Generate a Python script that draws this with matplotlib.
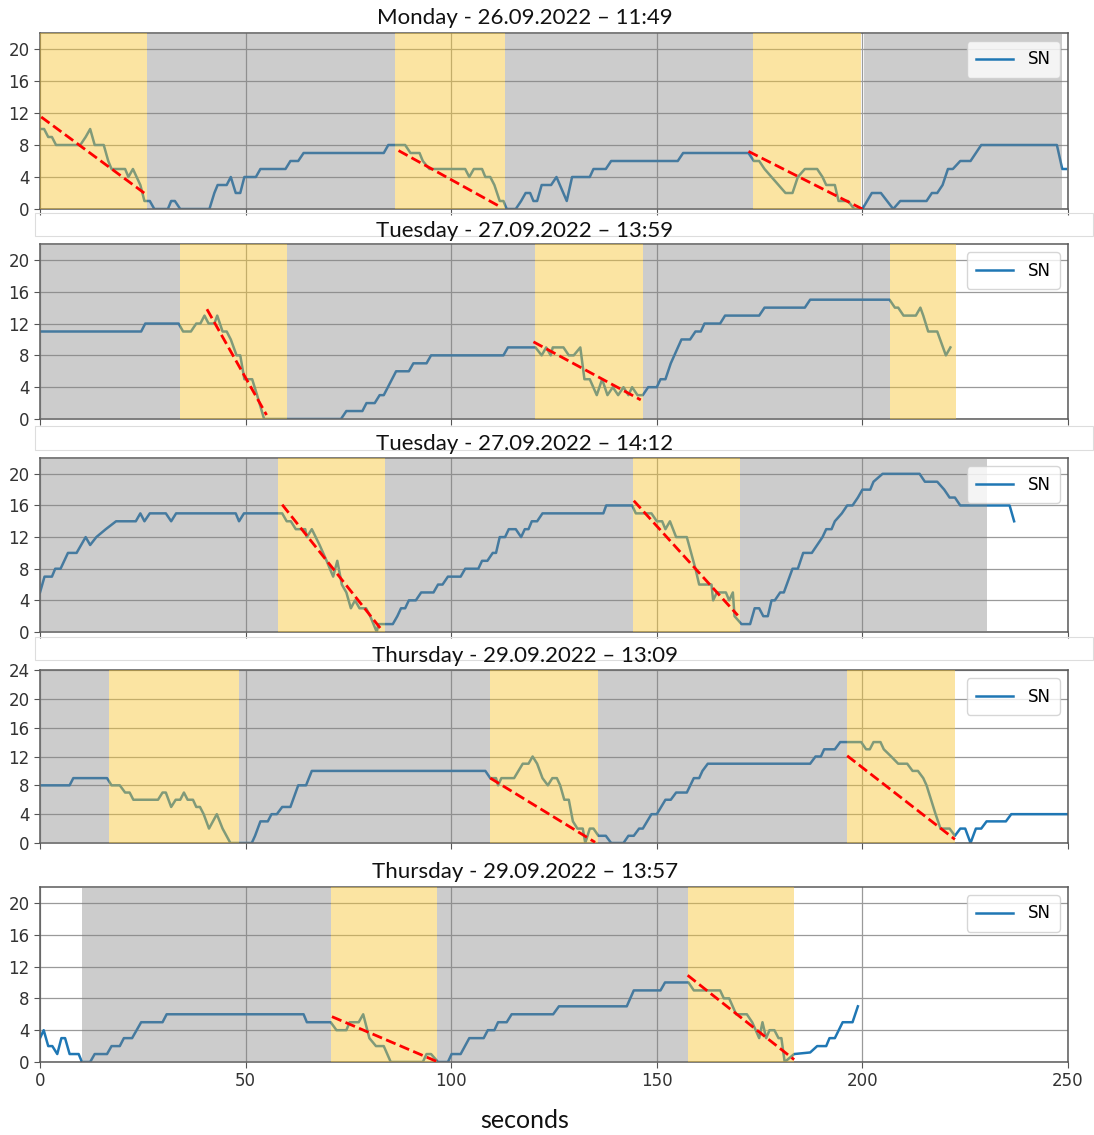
import matplotlib.pyplot as plt
from matplotlib.patches import Rectangle

plt.rcParams['font.family'] = ['DejaVu Sans']

# ---- data (seconds, SN value) ----
titles = ["Monday - 26.09.2022 \u2013 11:49",
          "Tuesday - 27.09.2022 \u2013 13:59",
          "Tuesday - 27.09.2022 \u2013 14:12",
          "Thursday - 29.09.2022 \u2013 13:09",
          "Thursday - 29.09.2022 \u2013 13:57"]

p1_t = [0, 1, 2, 2.9, 3.9, 9.8, 11.1, 12.2, 13.3, 15.5, 16.6, 17.4, 20.7, 21.5, 22.6, 23.5, 24.4, 25.4, 26.7,
        27.8, 31.1, 31.9, 32.8, 34.1, 41.2, 42.4, 43.2, 45.4, 46.4, 47.6, 48.7, 49.7, 52.5, 53.6, 59.7, 60.9,
        62.8, 64.1, 83.6, 84.7, 88.8, 90.1, 92.3, 93.1, 94.7, 103.4, 104.4, 105.5, 107.5, 108.3, 109.5, 110.5,
        111.8, 112.7, 113.5, 115.7, 117, 118.1, 119.2, 120, 120.9, 122, 124.3, 125.6, 128.1, 129.4, 133.7,
        134.6, 137.6, 138.9, 155.1, 156.4, 172.3, 173.6, 174.9, 176.2, 177.9, 179.6, 181.3, 183, 184.3, 186,
        189, 190.3, 191.2, 193.3, 194.2, 196.5, 198, 200, 202.3, 204.5, 207.5, 209.2, 215.6, 216.9, 218.2,
        219.5, 220.8, 222, 223.8, 226.3, 227.6, 228.9, 247.3, 248.6, 249.5]
p1_sn = [10, 10, 9, 9, 8, 8, 9, 10, 8, 8, 6, 5, 5, 4, 5, 4, 3, 1, 1,
         0, 0, 1, 1, 0, 0, 2, 3, 3, 4, 2, 2, 4, 4, 5, 5, 6,
         6, 7, 7, 8, 8, 7, 7, 6, 5, 5, 4, 5, 5, 4, 4, 3,
         1, 1, 0, 0, 1, 2, 2, 1, 1, 3, 3, 4, 1, 4, 4,
         5, 5, 6, 6, 7, 7, 6, 6, 5, 4, 3, 2, 2, 4, 5,
         5, 4, 3, 3, 1, 1, 0, 0, 2, 2, 0, 1, 1, 2, 2,
         3, 5, 5, 6, 6, 7, 8, 8, 5, 5]

p2_t = [0, 24.6, 25.6, 33.7, 34.8, 36.7, 38, 39, 40, 41, 42.4, 43.1, 44.4, 45.4, 46.4, 47.8, 48.7, 49.7,
        51.6, 52.8, 54.5, 73.2, 74.5, 78.4, 79.4, 81.4, 82.6, 83.6, 86.6, 89.7, 90.8, 94, 95.1, 112.7,
        113.8, 120.5, 122, 123.1, 124.2, 124.7, 127.3, 128.6, 129.8, 131.4, 132.4, 133.7, 135.4, 136.7,
        138, 139.3, 140.6, 141.9, 143.1, 144, 145.3, 146.6, 147.9, 150, 150.9, 152.1, 153.4, 156, 158.1,
        159.4, 160.7, 161.6, 165.4, 166.6, 174.9, 176.2, 186, 187.3, 206.6, 207.9, 208.7, 210, 213, 214.1,
        214.8, 216, 218.2, 220.3, 221.4]
p2_sn = [11, 11, 12, 12, 11, 11, 12, 12, 13, 12, 12, 13, 11, 11, 10, 8, 8, 5,
         5, 3, 0, 0, 1, 1, 2, 2, 3, 3, 6, 6, 7, 7, 8, 8,
         9, 9, 8, 9, 8, 9, 9, 8, 8, 9, 5, 5, 3, 5,
         3, 4, 3, 4, 3, 4, 3, 3, 4, 4, 5, 5, 7, 10, 10,
         11, 11, 12, 12, 13, 13, 14, 14, 15, 15, 14, 14, 13, 13, 14,
         13, 11, 11, 8, 9]

p3_t = [0, 1.1, 2.9, 3.7, 5, 6.8, 8.9, 11.1, 12.2, 13.7, 16, 18.5, 23.3, 24.4, 25.4, 26.7, 30.6, 31.9,
        33.1, 47.6, 48.4, 49.6, 58.9, 60, 61, 62.2, 64.5, 64.9, 66.1, 68, 69.7, 71.3, 72.3, 73.4, 74.5,
        75.6, 76.6, 77.7, 79.3, 80.3, 81.9, 82.3, 85.8, 86.9, 87.8, 88.8, 89.7, 91.4, 92.7, 95.7, 96.8,
        97.9, 99.2, 102.3, 103.4, 106.6, 107.5, 108.8, 110.1, 110.9, 111.8, 113.1, 114, 115.7, 117, 117.9,
        118.8, 119.6, 120.9, 122.2, 137, 137.7, 144, 144.9, 148.7, 150, 151.3, 152.1, 153.2, 154.7, 157.3,
        159.4, 160.3, 163.3, 163.7, 164.6, 166.8, 167.6, 168.5, 168.9, 170.6, 172.7, 173.8, 174.9, 175.9,
        177, 177.9, 178.7, 180, 180.9, 183, 184.3, 185.6, 187.7, 189, 190.3, 191.2, 192.5, 193.3, 195,
        196.3, 197.6, 198.9, 200, 201.9, 202.7, 204.9, 213.9, 215.2, 218.2, 219.9, 221.2, 222.5, 223.8,
        235.8, 236.9]
p3_sn = [5, 7, 7, 8, 8, 10, 10, 12, 11, 12, 13, 14, 14, 15, 14, 15, 15, 14,
         15, 15, 14, 15, 15, 14, 14, 13, 13, 12, 13, 11, 9, 7, 9, 6, 5,
         3, 4, 3, 3, 2, 0, 1, 1, 2, 3, 3, 4, 4, 5, 5, 6,
         6, 7, 7, 8, 8, 9, 9, 10, 10, 12, 12, 13, 13, 12, 13,
         13, 14, 14, 15, 15, 16, 16, 15, 15, 14, 14, 13, 14, 12, 12,
         8, 6, 6, 4, 5, 5, 4, 5, 2, 1, 1, 3, 3, 2,
         2, 4, 4, 5, 5, 8, 8, 10, 10, 11, 12, 13, 13, 14, 15,
         16, 16, 17, 18, 18, 19, 20, 20, 19, 19, 18, 17, 17, 16,
         16, 14]

p4_t = [0, 7.2, 8.1, 16.3, 17.4, 19.4, 20.7, 21.8, 22.7, 28.7, 29.8, 30.6, 31.9, 33, 34.1, 35, 35.9, 37.2,
        38, 38.9, 39.8, 41.1, 43, 44.4, 46.3, 51.5, 52.3, 53.6, 55.4, 56.3, 57.6, 58.9, 60.9, 62.8, 64.7,
        66.1, 108.3, 109.5, 110.9, 111.4, 112.2, 115.3, 117.4, 118.8, 119.8, 120.9, 122.2, 123.5, 124.6,
        125.7, 126.5, 127.5, 128.6, 129.6, 130.7, 132, 132.6, 133.7, 134.6, 135.8, 137.6, 138.9, 141.9,
        143.1, 144.4, 145.7, 146.6, 148.7, 150, 152.1, 153.4, 154.7, 157.3, 159, 160.3, 161.1, 162.4,
        187.3, 188.6, 189.9, 190.7, 193.3, 194.6, 199.7, 200.9, 201.8, 202.7, 204.4, 205.2, 207, 208.7,
        210.9, 212.2, 213.5, 214.8, 215.6, 217.8, 219, 221.2, 222.5, 223.8, 225, 226.3, 227.6, 228.9,
        230.2, 234.9, 236.2, 250]
p4_sn = [8, 8, 9, 9, 8, 8, 7, 7, 6, 6, 7, 7, 5, 6, 6, 7, 6, 6,
         5, 5, 4, 2, 4, 2, 0, 0, 1, 3, 3, 4, 4, 5, 5, 8, 8,
         10, 10, 9, 9, 8, 9, 9, 11, 11, 12, 11, 9, 8, 9,
         9, 8, 6, 6, 3, 2, 2, 0, 2, 2, 1, 1, 0, 0,
         1, 1, 2, 2, 4, 4, 6, 6, 7, 7, 9, 9, 10, 11,
         11, 12, 12, 13, 13, 14, 14, 13, 13, 14, 14, 13, 12, 11,
         11, 10, 10, 9, 8, 4, 2, 2, 1, 2, 2, 0, 2, 2,
         3, 3, 4, 4]

p5_t = [0, 0.9, 2, 3, 4.2, 5.2, 6.1, 7.2, 9.4, 10.2, 12.2, 13.3, 16.3, 17.4, 19.4, 20.4, 22.4, 24.6, 29.8,
        30.8, 64.1, 64.9, 70.7, 72.1, 74.5, 75.3, 77.5, 78.6, 80.1, 81.7, 83.6, 85.3, 93.1, 94, 95.1, 96.8,
        99.2, 100.1, 102.3, 104.4, 107.9, 108.9, 110.5, 111.4, 113.5, 114.7, 124.8, 126.2, 142.7, 144.4,
        150.9, 152, 157.7, 159, 165.4, 166.3, 167.6, 169.3, 171.9, 173.2, 174.9, 175.7, 176.6, 177.4,
        178.6, 179.6, 180.3, 181.1, 183.4, 187.3, 189, 191.2, 192, 193.3, 195.2, 197.6, 198.9]
p5_sn = [3, 4, 2, 2, 1, 3, 3, 1, 1, 0, 0, 1, 1, 2, 2, 3, 3, 5, 5,
         6, 6, 5, 5, 4, 4, 5, 5, 6, 3, 2, 2, 0, 0, 1, 1, 0,
         0, 1, 1, 3, 3, 4, 4, 5, 5, 6, 6, 7, 7, 9,
         9, 10, 10, 9, 9, 8, 8, 6, 6, 5, 3, 5, 3, 4,
         4, 3, 3, 0, 1, 1.2, 2, 2, 3, 3, 5, 5, 7]

# shaded phases: (kind, start, end) -- 'y' = yellow, 'g' = grey
p1_spans = [('y', 0, 25.9), ('g', 25.9, 86.4), ('y', 86.4, 113), ('g', 113, 173.3), ('y', 173.3, 199.6),
            ('g', 200.3, 248.6)]
p2_spans = [('g', 0, 34.1), ('y', 34.1, 60), ('g', 60, 120.5), ('y', 120.5, 146.6), ('g', 146.6, 206.6),
            ('y', 206.6, 222.7)]
p3_spans = [('g', 0, 58), ('y', 58, 83.9), ('g', 83.9, 144.3), ('y', 144.3, 170.2), ('g', 170.2, 230.2)]
p4_spans = [('g', 0, 16.8), ('y', 16.8, 48.4), ('g', 48.4, 109.5), ('y', 109.5, 135.8), ('g', 135.8, 196.3),
            ('y', 196.3, 222.6)]
p5_spans = [('g', 10.2, 70.8), ('y', 70.8, 96.6), ('g', 96.6, 157.7), ('y', 157.7, 183.4)]

# red dashed trend lines: (t0, v0, t1, v1)
p1_trend = [(0.3, 11.5, 25.6, 1.9), (87.2, 7.3, 112.2, 0.2), (172.3, 7.2, 200, 0)]
p2_trend = [(40.6, 13.8, 55.1, 0.5), (120, 9.7, 146.1, 2.4)]
p3_trend = [(58.9, 16.1, 83.2, 0.2), (144.4, 16.6, 169.7, 2.1)]
p4_trend = [(109.5, 9, 135, 0.1), (196.3, 12.1, 222.5, 0.5)]
p5_trend = [(71, 5.7, 96.8, 0), (157.5, 10.9, 183.4, 0.3)]

y_tops = [22, 22, 22, 24, 22]

panels = [(p1_t, p1_sn, p1_spans, p1_trend), (p2_t, p2_sn, p2_spans, p2_trend),
          (p3_t, p3_sn, p3_spans, p3_trend), (p4_t, p4_sn, p4_spans, p4_trend),
          (p5_t, p5_sn, p5_spans, p5_trend)]

# ---- layout in pixels (top, bottom) of each axes ----
W, H = 1094, 1135
ax_rows = [(33, 209), (244, 419), (458, 632), (670, 843), (887, 1062)]
title_y = [18, 231, 444, 656, 872]
left, right = 40, 1068

fig = plt.figure(figsize=(W / 100, H / 100), dpi=100)

span_colors = {'y': '#f7c531', 'g': '#808080'}
span_alpha = {'y': 0.45, 'g': 0.4}

for i, (t, sn, spans, trend) in enumerate(panels):
    top, bot = ax_rows[i]
    ax = fig.add_axes([left / W, 1 - bot / H, (right - left) / W, (bot - top) / H])
    ax.plot(t, sn, color='#1f77b4', lw=1.8, label='SN', zorder=2)
    for kind, a, b in spans:
        ax.axvspan(a, b, color=span_colors[kind], alpha=span_alpha[kind], lw=0, zorder=3)
    for t0, v0, t1, v1 in trend:
        ax.plot([t0, t1], [v0, v1], 'r--', lw=2, zorder=4)

    ax.set_xlim(0, 250)
    ax.set_ylim(0, y_tops[i])
    ax.set_yticks(range(0, y_tops[i] + 1, 4))
    ax.set_xticks([0, 50, 100, 150, 200, 250])
    if i < 4:
        ax.set_xticklabels([])
    ax.tick_params(labelsize=12, labelcolor='#333333', color='#555555', length=4)
    ax.grid(True, color='#9a9a9a', lw=0.9)
    ax.set_axisbelow(True)
    for s in ax.spines.values():
        s.set_color('#5a5a5a')
        s.set_linewidth(1.1)
    ax.legend(loc='upper right', fontsize=12, handlelength=2.2, handletextpad=0.9, borderpad=0.55)

    fig.text(525 / W, 1 - title_y[i] / H, titles[i], ha='center', va='center',
             fontsize=16, family=['Lato', 'DejaVu Sans'], color='#111111')

# faint frames left over around some titles
for y0, y1 in [(213, 236), (426, 450), (637, 660)]:
    fig.patches.append(Rectangle((35 / W, 1 - y1 / H), (1093 - 35) / W, (y1 - y0) / H,
                                 transform=fig.transFigure, fill=False, ec='#dddddd', lw=0.8,
                                 zorder=0))

fig.text(525 / W, 1 - 1120 / H, 'seconds', ha='center', va='center', fontsize=18,
         family=['Lato', 'DejaVu Sans'], color='#111111')

fig.savefig('out.png', dpi=100)
